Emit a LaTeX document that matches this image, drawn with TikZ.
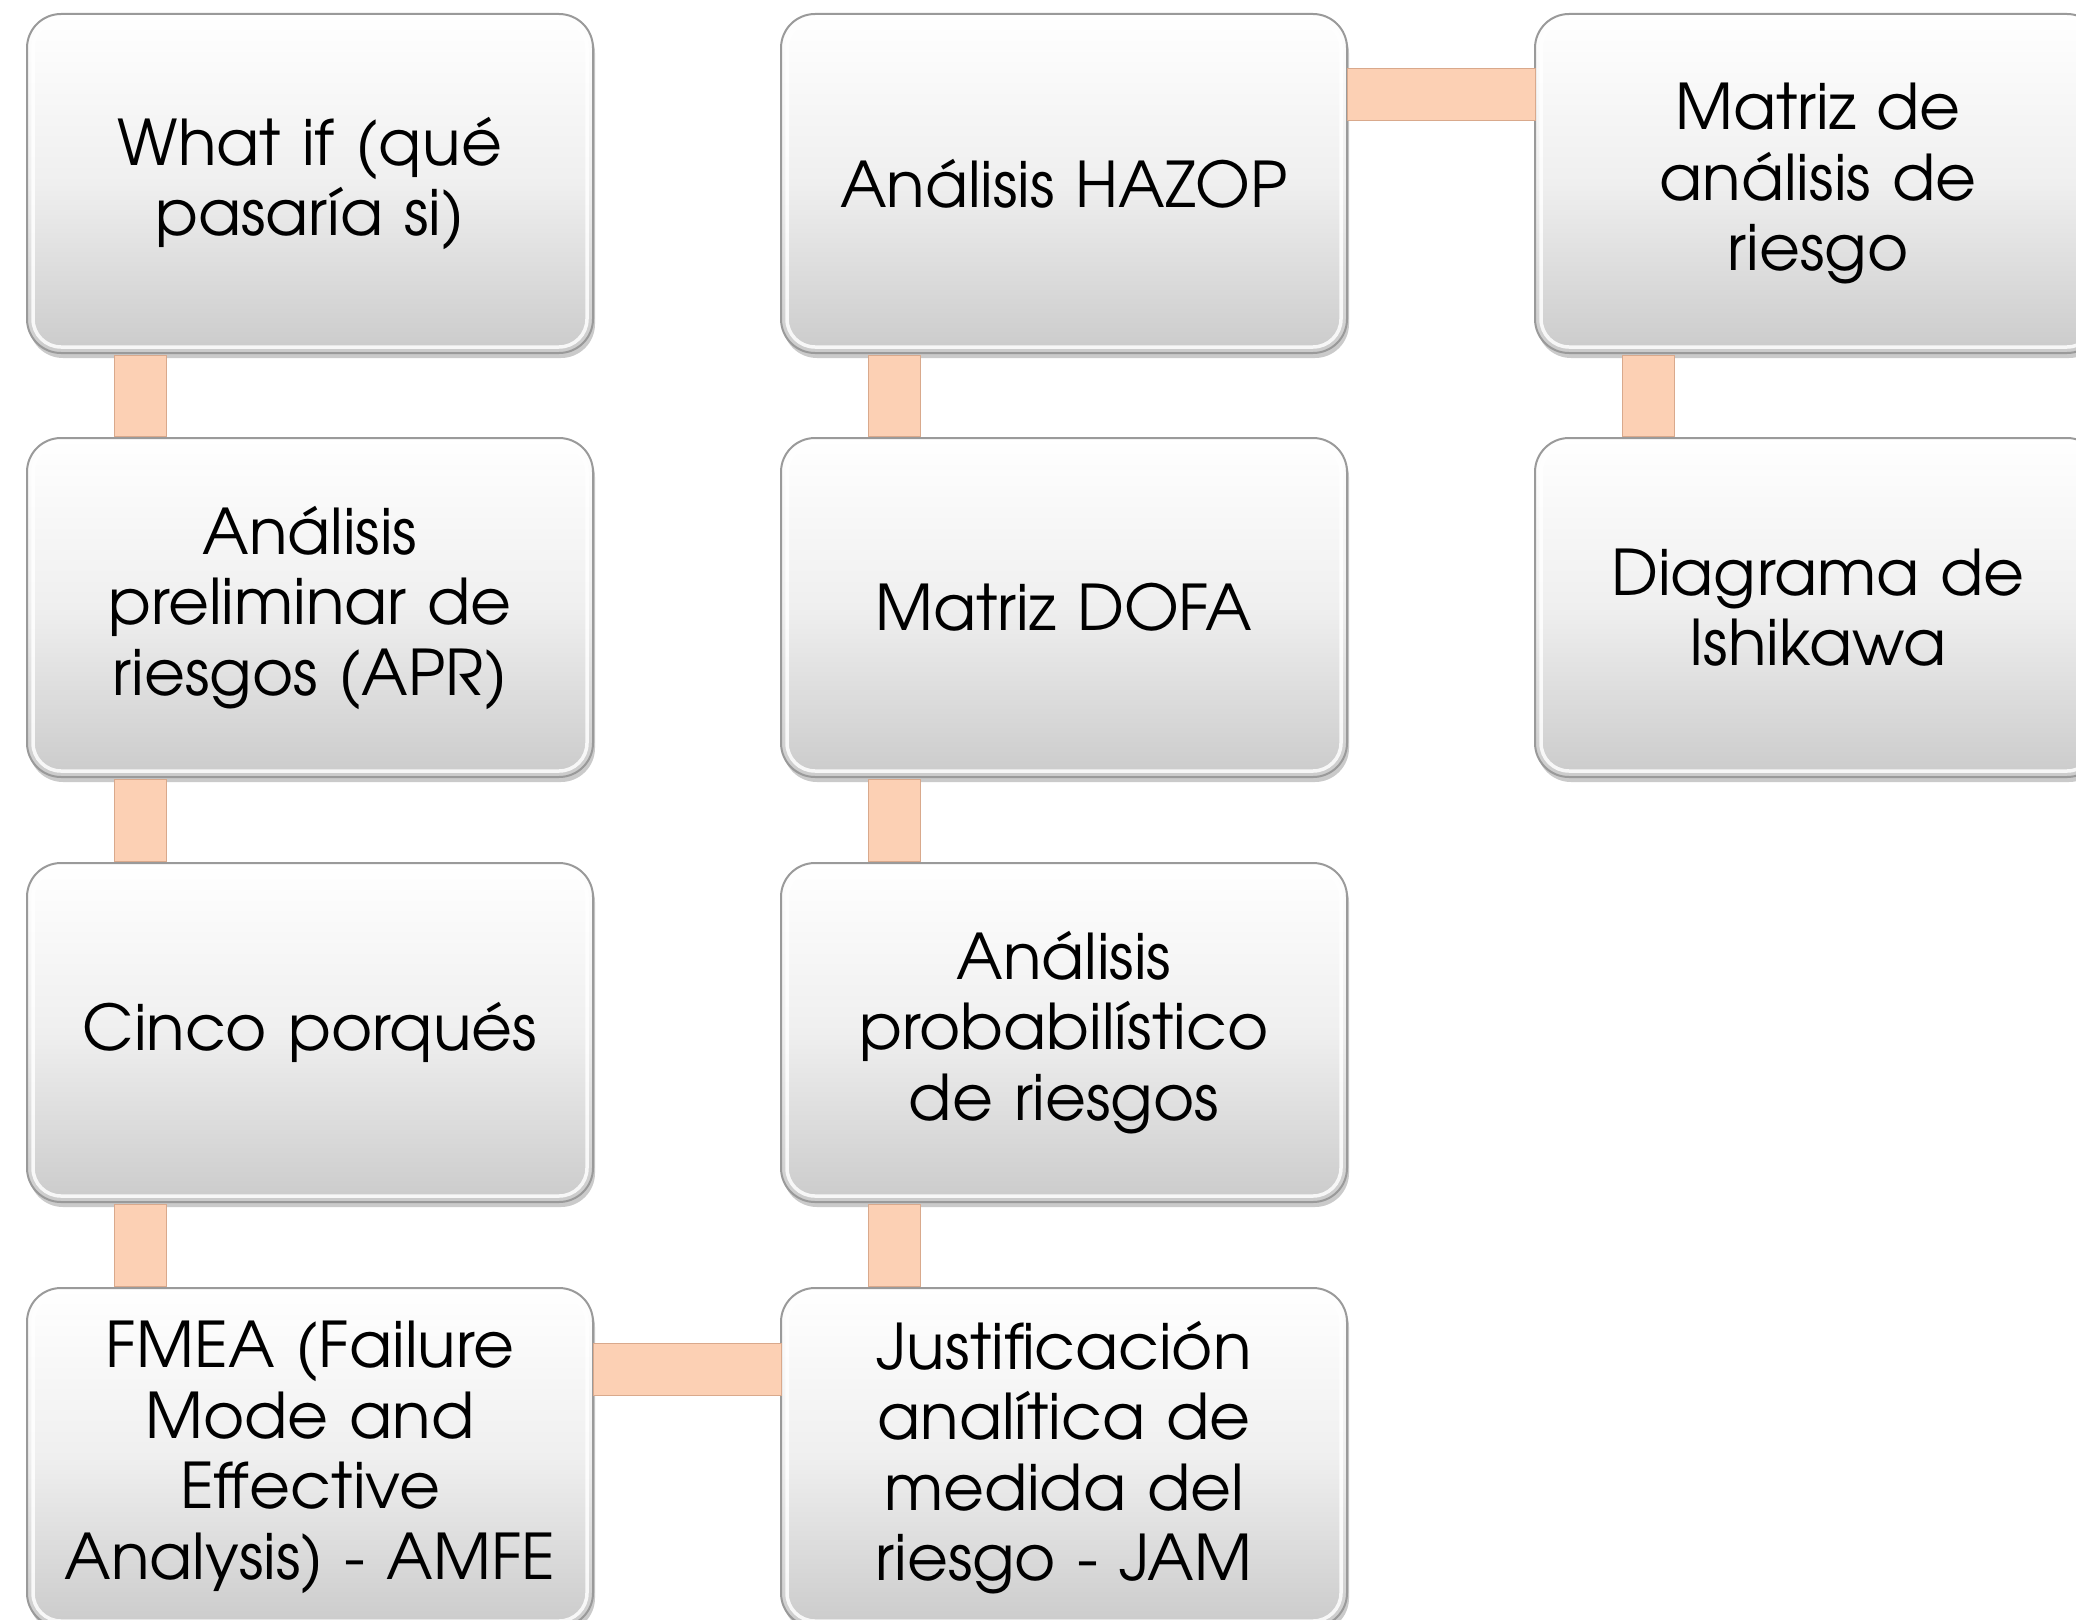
\documentclass[tikz,border=0pt]{standalone}
\usepackage{fontspec}
\setmainfont{TeX Gyre Adventor}
\usetikzlibrary{calc,shadows}
\definecolor{barfill}{HTML}{FCD0B4}
\definecolor{baredge}{HTML}{D9A98C}
\definecolor{boxedge}{HTML}{9A9A9A}
\definecolor{boxbot}{HTML}{CBCBCB}
\definecolor{boxmid}{HTML}{EFEFEF}
\tikzset{
  stepbox/.style={rectangle, rounded corners=34pt, draw=boxedge, line width=2pt,
    top color=white, bottom color=boxbot, middle color=boxmid,
    minimum width=566pt, minimum height=339pt, text width=548pt, align=center,
    inner sep=0pt, font=\fontsize{63}{70.5}\selectfont,
    drop shadow={shadow xshift=2pt, shadow yshift=-5pt, opacity=.35, fill=black!60}},
  rim/.style={draw=white, line width=3.5pt, rounded corners=28pt, opacity=.85},
  barv/.style={fill=barfill, draw=baredge, line width=1pt},
}
\begin{document}
\begin{tikzpicture}[x=1pt,y=-1pt]
\useasboundingbox (0,0) rectangle (2076,1619);
\clip (0,0) rectangle (2076,1619);
% boxes
\node[stepbox] (a1) at (310,183.5) {What if (qué\\pasaría si)};
\node[stepbox] (a2) at (310,607.5) {Análisis\\preliminar de\\riesgos (APR)};
\node[stepbox] (a3) at (310,1032.5) {Cinco porqués};
\node[stepbox] (a4) at (310,1457.5) {FMEA (Failure\\Mode and\\Effective\\Analysis) - AMFE};
\node[stepbox] (b1) at (1064,183.5) {Análisis HAZOP};
\node[stepbox] (b2) at (1064,607.5) {Matriz DOFA};
\node[stepbox] (b3) at (1064,1032.5) {Análisis\\probabilístico\\de riesgos};
\node[stepbox] (b4) at (1064,1457.5) {Justificación\\analítica de\\medida del\\riesgo - JAM};
\node[stepbox] (c1) at (1818,183.5) {Matriz de\\análisis de\\riesgo};
\node[stepbox] (c2) at (1818,607.5) {Diagrama de\\Ishikawa};
% inner rims
\foreach \n in {a1,a2,a3,a4,b1,b2,b3,b4,c1,c2}{
  \draw[rim] ($(\n.south west)+(7,-7)$) rectangle ($(\n.north east)+(-7,7)$);
}
% connectors
\foreach \u/\v in {a1/a2,a2/a3,a3/a4,b1/b2,b2/b3,b3/b4,c1/c2}{
  \draw[barv] ($(\u.south west)+(88,1)$) rectangle ($(\v.north west)+(140,-1)$);
}
\draw[barv] ($(b1.north east)+(-1,55)$) rectangle ($(c1.north west)+(1,107)$);
\draw[barv] ($(a4.north east)+(-1,56)$) rectangle ($(b4.north west)+(1,108)$);
\end{tikzpicture}
\end{document}
